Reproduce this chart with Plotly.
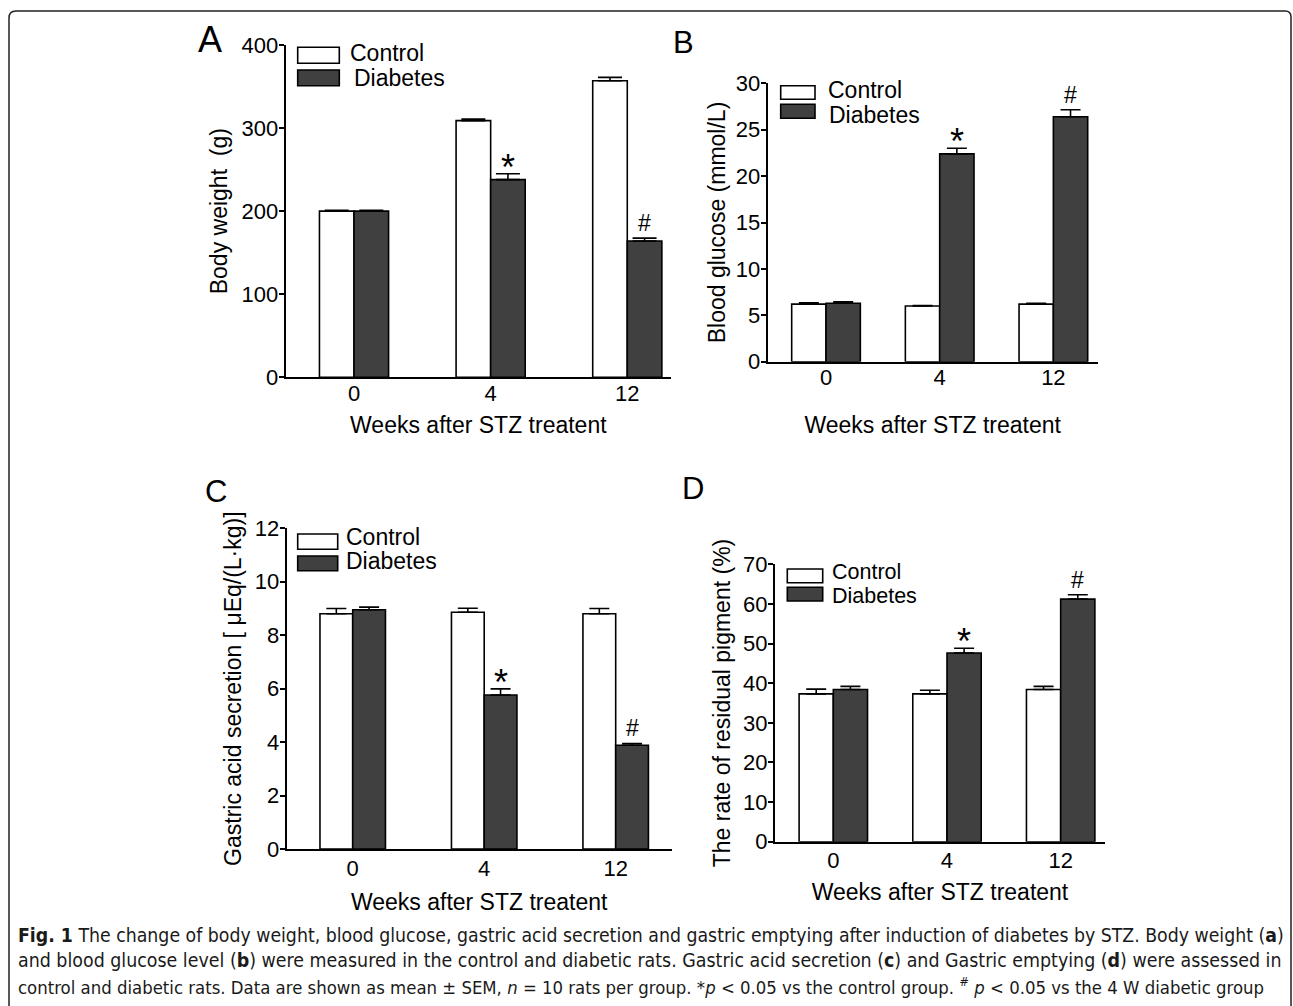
import plotly.graph_objects as go

# ---------------- data ----------------
weeks = ["0", "4", "12"]
groups = ["Control", "Diabetes"]

bw_control = [200, 309, 357]
bw_control_sem = [1, 2, 4]
bw_diabetes = [200, 238, 164]
bw_diabetes_sem = [1, 7, 3.5]

bg_control = [6.2, 6.0, 6.2]
bg_control_sem = [0.15, 0.05, 0.1]
bg_diabetes = [6.3, 22.4, 26.4]
bg_diabetes_sem = [0.15, 0.6, 0.75]

gas_control = [8.8, 8.86, 8.8]
gas_control_sem = [0.2, 0.15, 0.2]
gas_diabetes = [8.95, 5.76, 3.88]
gas_diabetes_sem = [0.1, 0.23, 0.07]

res_control = [37.3, 37.3, 38.4]
res_control_sem = [1.2, 0.9, 0.8]
res_diabetes = [38.4, 47.6, 61.2]
res_diabetes_sem = [0.8, 1.2, 1.1]

sig_marks = ["", "*", "#"]

y_titles = ["Body weight\u00a0 (g)", "Blood glucose (mmol/L)",
            "Gastric acid secretion [ \u03bcEq/(L\u00b7kg)]",
            "The rate of residual pigment (%)"]
x_title = "Weeks after STZ treatent"
panel_letters = ["A", "B", "C", "D"]
y_ticks = [[0, 100, 200, 300, 400], [0, 5, 10, 15, 20, 25, 30],
           [0, 2, 4, 6, 8, 10, 12], [0, 10, 20, 30, 40, 50, 60, 70]]

# ---------------- layout config (pixels) ----------------
W, H = 1293, 1006
FONT = "Liberation Sans, Arial, Helvetica, sans-serif"
DARK = "#404040"

def px(x):
    return x / W

def py(y):
    return 1 - y / H

panels = [
    dict(data=(bw_control, bw_control_sem, bw_diabetes, bw_diabetes_sem),
         box=(285.7, 671, 45, 377.3), yr=[0, 400], xr=[-0.5, 2.32], bw=0.253,
         leg=(297.7, 339.3, 47.3, 63.3, 70, 85.7), legtx=(347.7, 351.7),
         legty=(52.8, 77.8), legfs=23,
         letter=(210, 40, 36), xlab=-5, xstand=12, ystand=8, cap=12),
    dict(data=(bg_control, bg_control_sem, bg_diabetes, bg_diabetes_sem),
         box=(767.7, 1097.7, 83.3, 361.7), yr=[0, 30], xr=[-0.513, 2.39], bw=0.302,
         leg=(780.7, 815, 85.7, 99.3, 104.3, 118.3), legtx=(826, 826.7),
         legty=(90.2, 114.9), legfs=23,
         letter=(683, 42.5, 31), xlab=-5, xstand=28, ystand=4, cap=10),
    dict(data=(gas_control, gas_control_sem, gas_diabetes, gas_diabetes_sem),
         box=(286.7, 671.7, 528.3, 849), yr=[0, 12], xr=[-0.502, 2.426], bw=0.249,
         leg=(297.7, 337.7, 534, 549.3, 556, 570.7), legtx=(344, 344),
         legty=(536.7, 561.3), legfs=23,
         letter=(216, 491, 31), xlab=-1, xstand=13, ystand=7, cap=10),
    dict(data=(res_control, res_control_sem, res_diabetes, res_diabetes_sem),
         box=(775, 1105, 564.3, 841.7), yr=[0, 70], xr=[-0.513, 2.39], bw=0.301,
         leg=(787.3, 822.7, 569, 582.7, 587.3, 601), legtx=(830, 830),
         legty=(572.3, 595.6), legfs=21.5,
         letter=(693, 489, 31), xlab=-2, xstand=12, ystand=6, cap=10),
]

fig = go.Figure()
shapes = []
annotations = []
xpos = list(range(len(weeks)))

for k, p in enumerate(panels):
    sfx = "" if k == 0 else str(k + 1)
    xa, ya = "x" + sfx, "y" + sfx
    c, cs, d, ds = p["data"]
    w = p["bw"]
    for vals, sems, fill, off in ((c, cs, "white", -w), (d, ds, DARK, 0)):
        fig.add_trace(go.Bar(
            x=xpos, y=vals, width=w, offset=off, xaxis=xa, yaxis=ya,
            marker=dict(color=fill, line=dict(color="black", width=1.6)),
            error_y=dict(type="data", array=sems, arrayminus=[0] * len(sems),
                         symmetric=False, color="black", thickness=1.6,
                         width=p["cap"]),
            showlegend=False, hoverinfo="y"))
    x0, x1, y0, y1 = p["box"]
    xkey = "xaxis" + sfx
    ykey = "yaxis" + sfx
    fig.layout[xkey] = dict(
        domain=[px(x0), px(x1)], anchor=ya, range=p["xr"],
        tickvals=xpos, ticktext=weeks, ticks="", showline=True,
        linewidth=2, linecolor="black", showgrid=False, zeroline=False,
        tickfont=dict(family=FONT, size=22, color="black"),
        ticklabelstandoff=p["xlab"],
        title=dict(text=x_title, font=dict(family=FONT, size=23, color="black"),
                   standoff=p["xstand"]),
        automargin=False, fixedrange=True)
    fig.layout[ykey] = dict(
        domain=[py(y1), py(y0)], anchor=xa, range=p["yr"],
        tickvals=y_ticks[k], ticks="outside", ticklen=5, tickwidth=2,
        tickcolor="black", showline=True, linewidth=2, linecolor="black",
        showgrid=False, zeroline=False, ticklabelstandoff=-4,
        tickfont=dict(family=FONT, size=22, color="black"),
        title=dict(text=y_titles[k], font=dict(family=FONT, size=23, color="black"),
                   standoff=p["ystand"]),
        automargin=False, fixedrange=True)

    # significance marks above diabetic bars
    for i, m in enumerate(sig_marks):
        if not m:
            continue
        annotations.append(dict(
            x=xpos[i] + w / 2, y=d[i] + ds[i], xref=xa, yref=ya,
            text=m, showarrow=False, yanchor="bottom",
            yshift=-16 if m == "*" else 0,
            font=dict(family=FONT, size=36 if m == "*" else 23, color="black")))

    # legend drawn as boxes + text
    lx0, lx1, wy0, wy1, dy0, dy1 = p["leg"]
    for (yy0, yy1, fill, label, tx, ty) in (
            (wy0, wy1, "white", groups[0], p["legtx"][0], p["legty"][0]),
            (dy0, dy1, DARK, groups[1], p["legtx"][1], p["legty"][1])):
        shapes.append(dict(type="rect", xref="paper", yref="paper",
                           x0=px(lx0), x1=px(lx1), y0=py(yy1), y1=py(yy0),
                           fillcolor=fill, line=dict(color="black", width=1.6)))
        annotations.append(dict(x=px(tx), y=py(ty), xref="paper",
                                yref="paper", xanchor="left", yanchor="middle",
                                text=label, showarrow=False,
                                font=dict(family=FONT, size=p["legfs"], color="black")))

    lx, ly, ls = p["letter"]
    annotations.append(dict(x=px(lx), y=py(ly), xref="paper", yref="paper",
                            text=panel_letters[k], showarrow=False,
                            xanchor="center", yanchor="middle",
                            font=dict(family=FONT, size=ls, color="black")))

# caption
CAP_FONT = "Liberation Sans Narrow, DejaVu Sans Condensed, Arial Narrow, sans-serif"
caption_lines = [
    "<b>Fig. 1</b> The change of body weight, blood glucose, gastric acid secretion and gastric emptying after induction of diabetes by STZ. Body weight (<b>a</b>)",
    "and blood glucose level (<b>b</b>) were measured in the control and diabetic rats. Gastric acid secretion (<b>c</b>) and Gastric emptying (<b>d</b>) were assessed in",
    "control and diabetic rats. Data are shown as mean \u00b1 SEM, <i>n</i> = 10 rats per group. *<i>p</i> &lt; 0.05 vs the control group. <sup>#</sup> <i>p</i> &lt; 0.05 vs the 4 W diabetic group",
]
caption_sizes = [19.3, 19.4, 18.4]
for j, line in enumerate(caption_lines):
    annotations.append(dict(x=px(16), y=py(935 + 25.5 * j), xref="paper", yref="paper",
                            xanchor="left", yanchor="middle", text=line,
                            showarrow=False,
                            font=dict(family=CAP_FONT, size=caption_sizes[j],
                                      color="#1a1a1a")))

# rounded frame
shapes.append(dict(type="path", xref="paper", yref="paper",
                   path=(f"M {px(9)},{py(1010)} L {px(9)},{py(18)} "
                         f"Q {px(9)},{py(11)} {px(16)},{py(11)} "
                         f"L {px(1285)},{py(11)} Q {px(1291)},{py(11)} {px(1291)},{py(17)} "
                         f"L {px(1291)},{py(1010)}"),
                   line=dict(color="#222222", width=1.5)))

fig.update_layout(
    width=W, height=H, margin=dict(l=0, r=0, t=0, b=0),
    paper_bgcolor="white", plot_bgcolor="white",
    barmode="overlay", showlegend=False,
    shapes=shapes, annotations=annotations,
    font=dict(family=FONT, color="black"))

fig.write_html("out.html", config={"displayModeBar": False},
               post_script="document.body.style.margin='0';document.body.style.overflow='hidden';")
